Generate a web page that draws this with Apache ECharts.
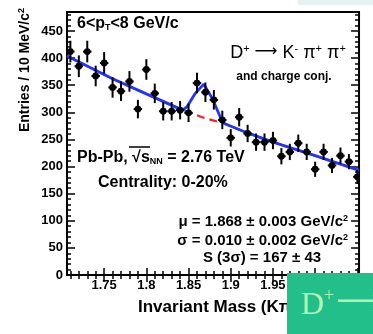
<!DOCTYPE html>
<html>
<head>
<meta charset="utf-8">
<script src="https://cdn.jsdelivr.net/npm/echarts@6/dist/echarts.min.js"></script>
<style>
  html, body { margin: 0; padding: 0; background: #fff; }
  #chart { width: 373px; height: 334px; }
</style>
</head>
<body>
<div id="chart"></div>
<script>
// D+ -> K- pi+ pi+ invariant-mass spectrum, Pb-Pb 2.76 TeV, 0-20%, 6<pT<8 GeV/c

// histogram bins (GeV/c^2) and entries per 10 MeV/c^2
const massBins = [1.71, 1.72, 1.73, 1.74, 1.75, 1.76, 1.77, 1.78, 1.79, 1.80,
                  1.81, 1.82, 1.83, 1.84, 1.85, 1.86, 1.87, 1.88, 1.89, 1.90,
                  1.91, 1.92, 1.93, 1.94, 1.95, 1.96, 1.97, 1.98, 1.99, 2.00,
                  2.01, 2.02, 2.03, 2.04, 2.05];
const entries = [412, 385, 412, 367, 391, 346, 339, 357, 306, 379,
                 335, 302, 302, 304, 299, 354, 337, 323, 286, 253,
                 291, 261, 245, 245, 248, 219, 227, 243, 227, 195,
                 227, 202, 220, 209, 181];
const entryErrors = [20, 20, 20, 19, 20, 19, 18, 19, 17, 19,
                     18, 17, 17, 17, 17, 19, 18, 18, 17, 16,
                     17, 16, 16, 16, 16, 15, 15, 16, 15, 14,
                     15, 14, 15, 14, 13];
const halfBinWidth = 0.005;

// total fit (signal + background)
const fitMass  = [1.706, 1.76, 1.80, 1.843, 1.848, 1.858, 1.868, 1.878, 1.888, 1.893, 1.92, 1.95, 2.00, 2.052];
const fitTotal = [404,   362,  334,  304,   310,   335,   352,   326,   290,   279,   262,  245,  220,  193];

// background-only component
const bkgMass   = [1.706, 1.76, 1.80, 1.843, 1.868, 1.893, 1.92, 1.95, 2.00, 2.052];
const bkgValues = [404,   362,  334,  304,   290,   279,   262,  245,  220,  193];

// axes
const xRange = [1.706, 2.052];
const xMajorTicks = [1.75, 1.8, 1.85, 1.9, 1.95, 2.0, 2.05];
const xTickLabels = ['1.75', '1.8', '1.85', '1.9', '1.95', '2', '2.05'];
const xMinorTicks = [1.71, 1.72, 1.73, 1.74, 1.76, 1.77, 1.78, 1.79, 1.81, 1.82, 1.83, 1.84,
                     1.86, 1.87, 1.88, 1.89, 1.91, 1.92, 1.93, 1.94, 1.96, 1.97, 1.98, 1.99,
                     2.01, 2.02, 2.03, 2.04];
const yRange = [0, 485];
const yMajorTicks = [0, 50, 100, 150, 200, 250, 300, 350, 400, 450];
const yMinorTicks = [10, 20, 30, 40, 60, 70, 80, 90, 110, 120, 130, 140, 160, 170, 180, 190,
                     210, 220, 230, 240, 260, 270, 280, 290, 310, 320, 330, 340, 360, 370, 380, 390,
                     410, 420, 430, 440, 460, 470, 480];

const FONT = '"Liberation Sans", Arial, Helvetica, sans-serif';
const SERIF = '"Liberation Serif", "DejaVu Serif", serif';
const ARROW_FONT = '"DejaVu Sans", "Liberation Sans", sans-serif';

const chart = echarts.init(document.getElementById('chart'), null, { renderer: 'canvas' });

function xAxisDef(position, ticks, len, withLabels) {
  return {
    type: 'value', position: position, min: xRange[0], max: xRange[1],
    axisLine: { show: false },
    splitLine: { show: false },
    axisTick: { show: true, inside: true, length: len, customValues: ticks,
                lineStyle: { color: '#000', width: 1.5 } },
    axisLabel: withLabels ? {
      show: true, customValues: ticks, margin: 4,
      color: '#000', fontFamily: FONT, fontWeight: 'bold', fontSize: 13,
      formatter: function (v) {
        const i = xMajorTicks.findIndex(t => Math.abs(t - v) < 1e-6);
        return i >= 0 ? xTickLabels[i] : '';
      }
    } : { show: false }
  };
}
function yAxisDef(position, ticks, len, withLabels) {
  return {
    type: 'value', position: position, min: yRange[0], max: yRange[1],
    axisLine: { show: false },
    splitLine: { show: false },
    axisTick: { show: true, inside: true, length: len, customValues: ticks,
                lineStyle: { color: '#000', width: 1.5 } },
    axisLabel: withLabels ? {
      show: true, customValues: ticks, margin: 4,
      color: '#000', fontFamily: FONT, fontWeight: 'bold', fontSize: 13
    } : { show: false }
  };
}

const points = massBins.map((m, i) => [m, entries[i], entryErrors[i]]);

const option = {
  animation: false,
  backgroundColor: '#fff',
  grid: { left: 67, right: 8, top: 12, bottom: 59, show: true,
          borderColor: '#000', borderWidth: 2, backgroundColor: 'transparent' },
  xAxis: [
    xAxisDef('bottom', xMajorTicks, 7, true),
    xAxisDef('bottom', xMinorTicks, 4, false),
    xAxisDef('top', xMajorTicks, 7, false),
    xAxisDef('top', xMinorTicks, 4, false)
  ],
  yAxis: [
    yAxisDef('left', yMajorTicks, 8, true),
    yAxisDef('left', yMinorTicks, 4, false),
    yAxisDef('right', yMajorTicks, 8, false),
    yAxisDef('right', yMinorTicks, 4, false)
  ],
  series: [
    {
      name: 'background', type: 'line', xAxisIndex: 0, yAxisIndex: 0,
      data: bkgMass.map((m, i) => [m, bkgValues[i]]),
      showSymbol: false, z: 2,
      lineStyle: { color: '#ff1e1e', width: 2.2, type: [8, 5] }
    },
    {
      name: 'fit', type: 'line', xAxisIndex: 0, yAxisIndex: 0,
      data: fitMass.map((m, i) => [m, fitTotal[i]]),
      showSymbol: false, z: 3,
      lineStyle: { color: '#2233ff', width: 2.8 }
    },
    {
      name: 'data', type: 'custom', xAxisIndex: 0, yAxisIndex: 0, z: 4, clip: true,
      data: points,
      renderItem: function (params, api) {
        const x = api.value(0), y = api.value(1), e = api.value(2);
        const c = api.coord([x, y]);
        const hi = api.coord([x, y + e]);
        const lo = api.coord([x, y - e]);
        const l = api.coord([x - halfBinWidth, y]);
        const r = api.coord([x + halfBinWidth, y]);
        const st = { stroke: '#000', lineWidth: 2 };
        return {
          type: 'group',
          children: [
            { type: 'line', shape: { x1: c[0], y1: hi[1], x2: c[0], y2: lo[1] }, style: st },
            { type: 'line', shape: { x1: l[0], y1: c[1], x2: r[0], y2: c[1] }, style: st },
            { type: 'circle', shape: { cx: c[0], cy: c[1], r: 3.4 }, style: { fill: '#000' } }
          ]
        };
      }
    }
  ],
  graphic: [
    // faint strip at the top right
    { type: 'rect', shape: { x: 298, y: 0, width: 75, height: 5 }, style: { fill: '#e6f3f2' }, z: 0 },
    // y-axis title
    {
      type: 'text', x: 25, y: 70, rotation: Math.PI / 2, z: 10,
      style: {
        text: 'Entries / 10 MeV/c{sup|2}', align: 'center', verticalAlign: 'middle',
        fontFamily: FONT, fontWeight: 'bold', fontSize: 14, fill: '#000',
        rich: { sup: { fontFamily: FONT, fontWeight: 'bold', fontSize: 9, verticalAlign: 'top', padding: [0, 0, 6, 0] } }
      }
    },
    // x-axis title
    {
      type: 'text', x: 138, y: 307, z: 10,
      style: {
        text: 'Invariant Mass (K\u03c0\u03c0) (GeV/c{sup|2})', align: 'left', verticalAlign: 'middle',
        fontFamily: FONT, fontWeight: 'bold', fontSize: 17, fill: '#000',
        rich: { sup: { fontFamily: FONT, fontWeight: 'bold', fontSize: 10, verticalAlign: 'top' } }
      }
    },
    // pT interval
    {
      type: 'text', x: 77, y: 24, z: 10,
      style: {
        text: '6<p{sub|T}<8 GeV/c', align: 'left', verticalAlign: 'middle',
        fontFamily: FONT, fontWeight: 'bold', fontSize: 16, fill: '#000',
        rich: { sub: { fontFamily: FONT, fontWeight: 'bold', fontSize: 9, verticalAlign: 'bottom', padding: [6, 0, 0, 0] } }
      }
    },
    // decay channel
    {
      type: 'text', x: 288, y: 53, z: 10,
      style: {
        text: 'D{sup|+} {arr|\u27f6} K{sup|-} \u03c0{sup|+} \u03c0{sup|+}', align: 'center', verticalAlign: 'middle',
        fontFamily: FONT, fontSize: 18, fill: '#000',
        rich: {
          sup: { fontFamily: FONT, fontSize: 11, verticalAlign: 'top', padding: [0, 0, 8, 0] },
          arr: { fontFamily: ARROW_FONT, fontSize: 16, padding: [0, 0, 2, 0] }
        }
      }
    },
    {
      type: 'text', x: 284, y: 77, z: 10,
      style: { text: 'and charge conj.', align: 'center', verticalAlign: 'middle',
               fontFamily: FONT, fontWeight: 'bold', fontSize: 12, fill: '#000' }
    },
    // collision system
    {
      type: 'text', x: 77, y: 158, z: 10,
      style: {
        text: 'Pb-Pb, \u221as{sub|NN} = 2.76 TeV', align: 'left', verticalAlign: 'middle',
        fontFamily: FONT, fontWeight: 'bold', fontSize: 16, fill: '#000',
        rich: { sub: { fontFamily: FONT, fontWeight: 'bold', fontSize: 9, verticalAlign: 'bottom', padding: [6, 0, 0, 0] } }
      }
    },
    { type: 'line', shape: { x1: 129, y1: 147, x2: 150, y2: 147 }, style: { stroke: '#000', lineWidth: 1.5 }, z: 10 },
    {
      type: 'text', x: 98, y: 183, z: 10,
      style: { text: 'Centrality: 0-20%', align: 'left', verticalAlign: 'middle',
               fontFamily: FONT, fontWeight: 'bold', fontSize: 16, fill: '#000' }
    },
    // fit results
    {
      type: 'text', x: 348, y: 222, z: 10,
      style: {
        text: '\u03bc = 1.868 \u00b1 0.003 GeV/c{sup|2}', align: 'right', verticalAlign: 'middle',
        fontFamily: FONT, fontWeight: 'bold', fontSize: 15, fill: '#000',
        rich: { sup: { fontFamily: FONT, fontWeight: 'bold', fontSize: 9, verticalAlign: 'top' } }
      }
    },
    {
      type: 'text', x: 348, y: 241, z: 10,
      style: {
        text: '\u03c3 = 0.010 \u00b1 0.002 GeV/c{sup|2}', align: 'right', verticalAlign: 'middle',
        fontFamily: FONT, fontWeight: 'bold', fontSize: 15, fill: '#000',
        rich: { sup: { fontFamily: FONT, fontWeight: 'bold', fontSize: 9, verticalAlign: 'top' } }
      }
    },
    {
      type: 'text', x: 262, y: 258, z: 10,
      style: { text: 'S (3\u03c3) = 167 \u00b1 43', align: 'center', verticalAlign: 'middle',
               fontFamily: FONT, fontWeight: 'bold', fontSize: 15, fill: '#000' }
    },
    // caption panel in the lower right corner
    { type: 'rect', shape: { x: 287, y: 273, width: 86, height: 61 }, style: { fill: '#22bf8a' }, z: 20 },
    {
      type: 'text', x: 301, y: 306, z: 21,
      style: {
        text: 'D{sup|+}{arr|\u27f6}K{sup|-}\u03c0{sup|+}\u03c0{sup|+}', align: 'left', verticalAlign: 'middle',
        fontFamily: SERIF, fontSize: 32, fill: '#b2f2b6',
        rich: {
          sup: { fontFamily: SERIF, fontSize: 18, verticalAlign: 'top', padding: [0, 0, 14, 0], fill: '#b2f2b6' },
          arr: { fontFamily: ARROW_FONT + ', ' + SERIF, fontSize: 32, fill: '#b2f2b6', padding: [0, 0, 6, 2] }
        }
      }
    }
  ]
};

chart.setOption(option);
</script>
</body>
</html>
